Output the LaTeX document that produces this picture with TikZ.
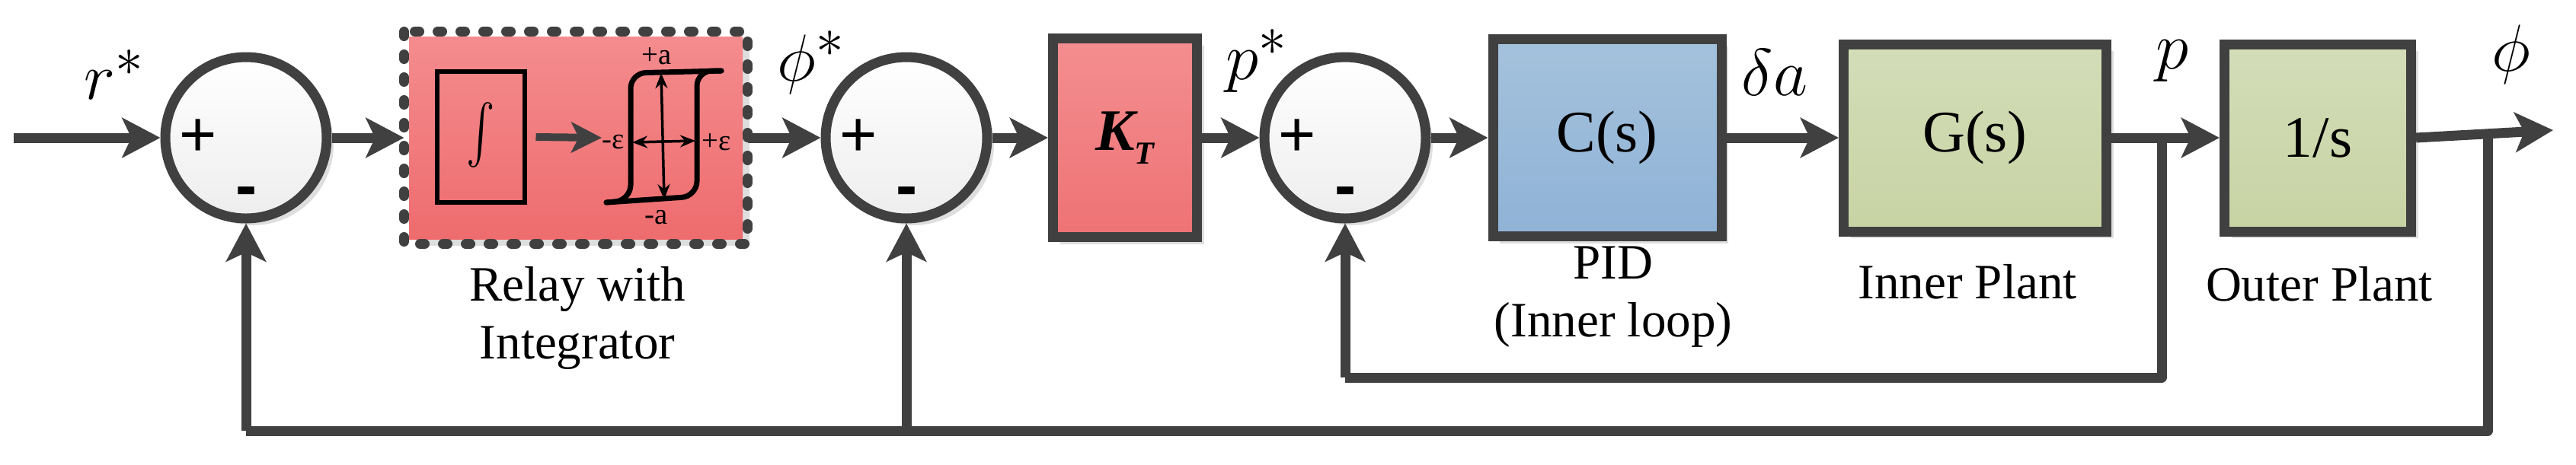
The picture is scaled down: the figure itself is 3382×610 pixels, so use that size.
\documentclass[tikz,border=0pt]{standalone}
\usepackage{fontspec}
\newfontfamily\serf{Liberation Serif}
\newfontfamily\sumfont{Liberation Sans}
\usetikzlibrary{arrows.meta,shadows,calc}
\definecolor{ln}{HTML}{404040}
\begin{document}
\begin{tikzpicture}[x=0.1mm,y=-0.1mm,
  wire/.style={draw=ln,line width=1.3mm},
  arr/.style={wire,-{Stealth[length=5mm,width=5.2mm,inset=1.2mm]}},
  shad/.style={drop shadow={shadow xshift=0.9mm,shadow yshift=-0.9mm,fill=black!13,opacity=1}},
  blk/.style={shad,draw=ln,line width=1.3mm,rectangle,inner sep=0pt,font=\serf\fontsize{22}{24}\selectfont},
  sum/.style={shad,circle,draw=ln,line width=1.3mm,minimum size=21.2mm,inner sep=0pt,top color=white,bottom color=black!7},
  sgn/.style={font=\sumfont\fontsize{24}{26}\selectfont,inner sep=0pt},
  lab/.style={font=\fontsize{32}{34}\selectfont,inner sep=0pt},
  captxt/.style={font=\serf\fontsize{18.5}{21.5}\selectfont,align=center,inner sep=0pt},
  small/.style={font=\serf\fontsize{11}{12}\selectfont,inner sep=0pt}]
\useasboundingbox (0,0) rectangle (3382,610);
% sums
\node[sum] (s1) at (323,181) {};
\node[sum] (s2) at (1190,181) {};
\node[sum] (s3) at (1766,181) {};
\foreach \s in {s1,s2,s3}{
  \node[sgn] at ($(\s)+(-63,0)$) {+};
  \node[sgn,font=\sumfont\bfseries\fontsize{24}{26}\selectfont] at ($(\s)+(1,78)$) {-};
}
% blocks
\node[blk,minimum width=43.8mm,minimum height=26.6mm,top color={rgb,255:red,244;green,140;blue,142},bottom color={rgb,255:red,238;green,108;blue,110},draw=none] (relay) at (756,181) {};
\draw[ln,line width=1.3mm,line cap=round,dash pattern=on 0.6mm off 2.4mm] (relay.north west) rectangle (relay.south east);
\node[blk,minimum width=18.9mm,minimum height=26.1mm,top color={rgb,255:red,244;green,142;blue,144},bottom color={rgb,255:red,238;green,114;blue,116}] (kt) at (1477,181) {\bfseries\itshape K\raisebox{-0.5ex}{\fontsize{12}{12}\selectfont T}};
\node[blk,minimum width=30mm,minimum height=25.9mm,top color={rgb,255:red,164;green,194;blue,220},bottom color={rgb,255:red,143;green,178;blue,214}] (cs) at (2110,181) {C(s)};
\node[blk,minimum width=34.5mm,minimum height=24.6mm,top color={rgb,255:red,211;green,221;blue,184},bottom color={rgb,255:red,200;green,211;blue,164}] (gs) at (2593,181) {G(s)};
\node[blk,minimum width=24.5mm,minimum height=24.6mm,top color={rgb,255:red,211;green,221;blue,184},bottom color={rgb,255:red,200;green,211;blue,164}] (is) at (3043,181) {1/s};
% relay internals
\node[draw=black,line width=0.6mm,minimum width=11.5mm,minimum height=17.2mm,inner sep=0pt] (integ) at (631,180) {};
\node[inner sep=0pt] (intsym) at (integ) {\scalebox{1.6}[2.2]{\fontsize{30}{30}\selectfont$\int$}};
\coordinate (hyl) at (790,181);
\draw[black,line width=0.7mm,line cap=round,rounded corners=2mm] (947,93) -- (828,96) -- (828,263) -- (796,266);
\draw[black,line width=0.7mm,line cap=round,rounded corners=2mm] (947,93) -- (915,93) -- (915,258) -- (796,266);
\draw[black,line width=0.35mm,{Stealth[length=2mm,width=1.6mm]}-{Stealth[length=2mm,width=1.6mm]}] (868,96) -- (872,262);
\draw[black,line width=0.35mm,{Stealth[length=2mm,width=1.6mm]}-{Stealth[length=2mm,width=1.6mm]}] (830,187) -- (913,185);
\node[small] (pa) at (862,74) {+a};
\node[small] (ma) at (862,286) {-a};
\node[small] (me) at (805,187) {-ε};
\node[small] (pe) at (941,187) {+ε};
\draw[arr,line width=1mm,-{Stealth[length=4mm,width=4mm,inset=1mm]}] (integ.east) ++(12,0) -- (hyl);
% captions
\node[captxt] (c1) at (758,418) {Relay with\\Integrator};
\node[captxt] (c2) at (2118,390) {PID\\(Inner loop)};
\node[captxt] (c3) at (2583,370) {Inner Plant};
\node[captxt] (c4) at (3045,373) {Outer Plant};
% signal labels
\node[lab] (lr) at (150,98) {$r^{*}$};
\node[lab] (lphi) at (1065,82) {$\phi^{*}$};
\node[lab] (lp) at (1650,80) {$p^{*}$};
\node[lab] (lda) at (2330,95) {$\delta a$};
\node[lab] (lpp) at (2852,80) {$p$};
\node[lab] (lph) at (3297,72) {$\phi$};
% connectors
\coordinate (in) at (18,181);
\draw[arr] (in) -- (s1);
\draw[arr] (s1) -- (relay);
\draw[arr] (relay) -- (s2);
\draw[arr] (s2) -- (kt);
\draw[arr] (kt) -- (s3);
\draw[arr] (s3) -- (cs);
\draw[arr] (cs) -- (gs);
\draw[arr] (gs) -- (is);
\coordinate (out) at (3352,171);
\draw[arr] (is.east) -- (out);
\coordinate (bp) at (2838,181);
\coordinate (bphi) at (3266,176);
\draw[wire,line join=round] (bp) |- (1766,496) coordinate (ic);
\draw[arr] (ic) -- (s3);
\draw[wire,line join=round] (bphi) |- (323,566) coordinate (oc);
\draw[arr] (oc) -- (s1);
\coordinate (j2) at (1190,566);
\draw[arr] (j2) -- (s2);
\end{tikzpicture}
\end{document}
